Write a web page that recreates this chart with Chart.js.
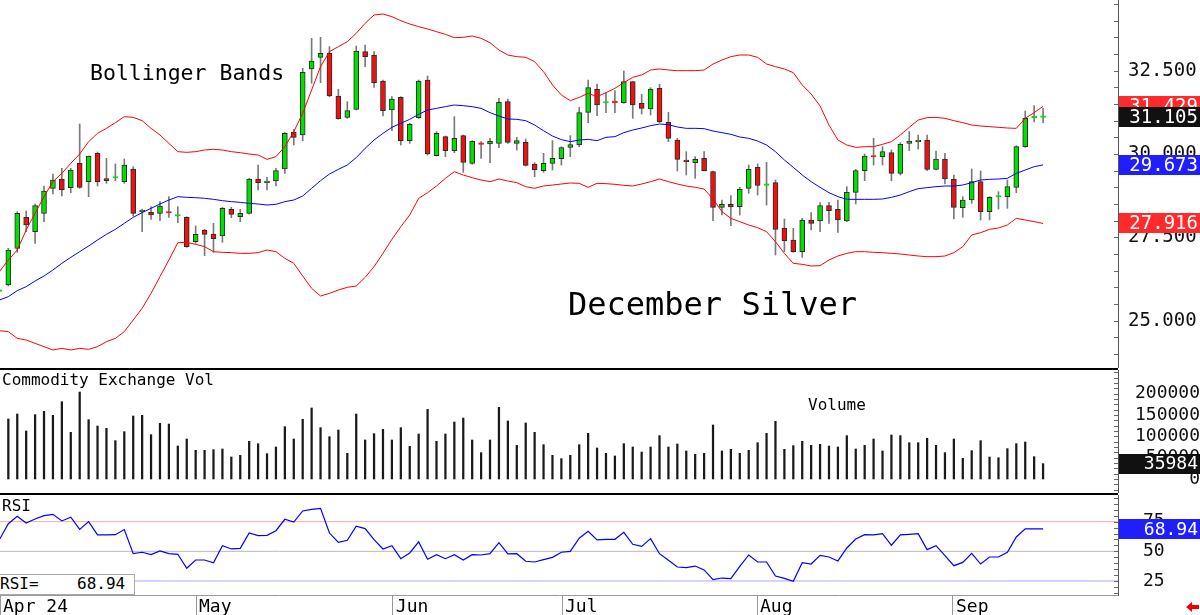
<!DOCTYPE html>
<html>
<head>
<meta charset="utf-8">
<script src="https://cdn.jsdelivr.net/npm/chart.js@4.4.1/dist/chart.umd.min.js"></script>
<style>
  body { margin: 0; background: #fff; }
  #wrap { position: relative; width: 1200px; height: 615px; overflow: hidden; font-family: 'DejaVu Sans Mono', monospace; color: #000; }
  canvas { position: absolute; left: 0; }
  .rule { position: absolute; left: 0; width: 1118px; height: 2px; background: #000; }
  .note { position: absolute; white-space: pre; line-height: 1; }
</style>
</head>
<body>
<div id="wrap">
  <canvas id="price" width="1200" height="368" style="top:0"></canvas>
  <div class="rule" style="top:368px"></div>
  <canvas id="vol" width="1200" height="123" style="top:370px"></canvas>
  <div class="rule" style="top:493px"></div>
  <canvas id="rsi" width="1200" height="120" style="top:495px"></canvas>
  <div class="note" style="left:90px;top:62px;font-size:21.5px">Bollinger Bands</div>
  <div class="note" style="left:568px;top:288px;font-size:32px">December Silver</div>
  <div class="note" style="left:2px;top:372px;font-size:16px">Commodity Exchange Vol</div>
  <div class="note" style="left:808px;top:397px;font-size:16px">Volume</div>
  <div class="note" style="left:2px;top:498px;font-size:16px">RSI</div>
  <div id="rsiBox" class="note" style="left:-1px;top:574px;width:136px;height:21px;border:1px solid #aaa;background:#fff;font-size:16px;padding-top:1px;box-sizing:border-box"></div>
</div>
<script>
// daily bars, first one (index -1) is cut by the left edge
const openPrices = [
  25.88, 26.07, 27.17, 28.10, 27.67, 28.22, 28.97, 29.25, 28.99, 29.72,
  29.17, 30.02, 29.26, 29.28, 29.17, 29.55, 28.27, 28.25, 28.22, 28.27,
  28.14, 28.10, 27.37, 27.72, 27.60, 27.54, 28.34, 28.12, 28.22, 29.25,
  29.14, 29.19, 29.55, 30.66, 30.57, 32.55, 32.90, 33.02, 31.74, 31.10,
  31.34, 33.07, 32.97, 32.19, 31.32, 31.70, 30.40, 31.09, 32.22, 29.95,
  30.52, 30.10, 30.55, 29.72, 30.31, 30.30, 30.32, 31.57, 30.32, 30.35,
  29.70, 29.50, 29.72, 29.86, 30.20, 30.27, 31.25, 31.94, 31.53, 31.56,
  31.54, 32.17, 31.52, 31.35, 31.97, 30.95, 30.42, 29.82, 29.74, 29.87,
  29.47, 28.40, 28.49, 28.42, 28.97, 29.60, 29.06, 29.14, 27.77, 27.42,
  27.07, 28.02, 27.99, 28.45, 28.34, 27.99, 28.85, 29.50, 29.93, 29.92,
  30.04, 29.42, 30.32, 30.37, 30.42, 29.54, 29.85, 29.24, 28.39, 28.62,
  29.17, 28.27, 28.71, 28.72, 29.00, 30.22, 31.09, 31.10
];
const highPrices = [
  25.93, 27.17, 28.27, 28.29, 28.50, 29.04, 29.40, 29.57, 29.57, 30.90,
  29.94, 30.06, 29.87, 29.70, 29.85, 29.62, 28.35, 28.42, 28.57, 28.72,
  28.42, 28.12, 27.84, 27.74, 27.92, 28.40, 28.40, 28.34, 29.27, 29.67,
  29.30, 29.57, 30.64, 30.74, 32.57, 33.47, 33.50, 33.22, 31.94, 31.57,
  33.24, 33.27, 33.07, 32.22, 31.72, 31.72, 30.92, 32.22, 32.34, 30.67,
  30.54, 31.12, 30.57, 30.40, 30.37, 30.47, 31.67, 31.65, 30.50, 30.45,
  29.74, 30.02, 30.40, 30.22, 30.55, 31.40, 32.22, 32.10, 31.84, 31.90,
  32.49, 32.17, 31.79, 31.99, 32.09, 31.25, 30.47, 30.07, 29.92, 30.07,
  29.49, 28.62, 28.75, 29.00, 29.67, 29.70, 29.75, 29.22, 28.05, 27.77,
  28.07, 28.24, 28.54, 28.55, 28.62, 29.02, 29.54, 30.00, 30.47, 30.22,
  30.12, 30.34, 30.67, 30.57, 30.57, 30.09, 30.02, 29.37, 28.72, 29.55,
  29.49, 28.72, 28.87, 29.22, 30.25, 31.29, 31.45, 31.37
];
const lowPrices = [
  25.85, 26.04, 27.05, 27.67, 27.32, 27.97, 28.80, 28.74, 28.84, 28.97,
  28.72, 29.04, 29.12, 29.20, 29.12, 28.14, 27.67, 28.04, 28.00, 28.10,
  27.94, 27.20, 27.32, 26.95, 27.05, 27.35, 28.09, 27.97, 28.20, 28.92,
  28.92, 29.04, 29.42, 30.27, 30.40, 32.12, 32.14, 31.72, 31.04, 31.07,
  31.32, 32.62, 32.00, 31.14, 30.70, 30.27, 30.32, 31.07, 29.97, 29.94,
  29.92, 30.04, 29.45, 29.69, 29.87, 29.74, 30.19, 30.32, 30.12, 29.64,
  29.32, 29.45, 29.52, 29.67, 29.92, 30.22, 30.94, 31.15, 31.24, 31.24,
  31.52, 31.07, 31.20, 31.17, 30.94, 30.37, 29.49, 29.37, 29.27, 29.49,
  28.00, 28.17, 27.85, 28.17, 28.82, 28.77, 28.47, 26.97, 27.07, 27.05,
  26.90, 27.72, 27.67, 27.92, 27.65, 27.97, 28.50, 29.20, 29.67, 29.67,
  29.20, 29.37, 30.10, 30.15, 29.50, 29.52, 29.10, 28.05, 28.10, 28.52,
  28.02, 28.02, 28.35, 28.37, 28.84, 30.20, 30.96, 30.94
];
const closePrices = [
  25.90, 27.12, 28.22, 27.87, 28.45, 28.89, 29.22, 28.92, 29.52, 29.00,
  29.94, 29.17, 29.20, 29.30, 29.67, 28.22, 28.32, 28.17, 28.44, 28.23,
  28.14, 27.22, 27.59, 27.59, 27.46, 28.37, 28.19, 28.22, 29.25, 29.14,
  29.19, 29.50, 30.62, 30.50, 32.45, 32.79, 33.02, 31.74, 31.06, 31.30,
  33.09, 32.92, 32.14, 31.30, 31.65, 30.40, 30.89, 32.19, 30.00, 30.62,
  30.10, 30.47, 29.75, 30.38, 30.29, 30.38, 31.55, 30.35, 30.40, 29.66,
  29.52, 29.72, 29.87, 30.19, 30.28, 31.24, 31.99, 31.47, 31.55, 31.54,
  32.17, 31.47, 31.37, 31.95, 30.97, 30.47, 29.84, 29.77, 29.84, 29.50,
  28.40, 28.49, 28.41, 28.94, 29.54, 29.06, 29.07, 27.74, 27.40, 27.07,
  28.02, 27.92, 28.45, 28.30, 28.02, 28.85, 29.50, 29.94, 29.91, 30.07,
  29.42, 30.29, 30.39, 30.42, 29.54, 29.85, 29.25, 28.40, 28.62, 29.17,
  28.27, 28.70, 28.72, 29.02, 30.22, 31.07, 31.10, 31.105
];
const upperBand = [
  26.47, 26.82, 27.12, 27.72, 28.22, 28.72, 29.17, 29.42, 29.72, 30.00,
  30.37, 30.62, 30.77, 30.94, 31.12, 31.10, 31.00, 30.77, 30.57, 30.32,
  30.07, 30.05, 30.07, 30.12, 30.14, 30.12, 30.07, 30.04, 30.00, 29.97,
  29.84, 29.92, 30.22, 30.67, 31.22, 31.92, 32.62, 33.07, 33.22, 33.37,
  33.62, 33.92, 34.17, 34.20, 34.12, 34.00, 33.90, 33.82, 33.75, 33.67,
  33.59, 33.49, 33.50, 33.54, 33.47, 33.34, 33.12, 32.97, 32.92, 32.90,
  32.77, 32.47, 32.07, 31.77, 31.60, 31.70, 31.82, 31.72, 31.84, 31.97,
  32.14, 32.30, 32.37, 32.52, 32.55, 32.52, 32.50, 32.50, 32.50, 32.52,
  32.70, 32.82, 32.92, 32.97, 32.97, 32.90, 32.70, 32.62, 32.55, 32.44,
  32.07, 31.80, 31.44, 30.87, 30.42, 30.27, 30.20, 30.22, 30.22, 30.29,
  30.37, 30.57, 30.80, 31.02, 31.09, 31.10, 31.07, 31.00, 30.94, 30.87,
  30.84, 30.82, 30.80, 30.78, 30.77, 31.07, 31.24, 31.429
];
const middleBand = [
  25.62, 25.72, 25.90, 26.02, 26.19, 26.34, 26.52, 26.72, 26.90, 27.07,
  27.24, 27.42, 27.59, 27.74, 27.92, 28.10, 28.24, 28.37, 28.50, 28.62,
  28.72, 28.70, 28.69, 28.67, 28.64, 28.60, 28.57, 28.55, 28.52, 28.50,
  28.47, 28.49, 28.57, 28.62, 28.74, 28.97, 29.20, 29.40, 29.54, 29.67,
  29.89, 30.17, 30.42, 30.62, 30.80, 30.92, 31.04, 31.19, 31.32, 31.37,
  31.42, 31.47, 31.45, 31.42, 31.37, 31.24, 31.14, 31.05, 31.04, 31.00,
  30.87, 30.70, 30.54, 30.43, 30.37, 30.42, 30.44, 30.40, 30.50, 30.52,
  30.64, 30.72, 30.78, 30.85, 30.90, 30.88, 30.81, 30.77, 30.77, 30.76,
  30.69, 30.64, 30.59, 30.51, 30.47, 30.39, 30.27, 30.07, 29.82, 29.60,
  29.37, 29.17, 29.00, 28.84, 28.72, 28.64, 28.64, 28.64, 28.64, 28.65,
  28.70, 28.77, 28.87, 28.96, 28.99, 29.02, 29.04, 29.04, 29.07, 29.14,
  29.22, 29.24, 29.25, 29.27, 29.42, 29.52, 29.62, 29.673
];
const lowerBand = [
  24.70, 24.67, 24.47, 24.42, 24.32, 24.22, 24.12, 24.17, 24.12, 24.17,
  24.14, 24.22, 24.37, 24.47, 24.67, 25.02, 25.37, 25.82, 26.32, 26.82,
  27.34, 27.35, 27.29, 27.22, 27.07, 27.05, 27.04, 27.02, 27.02, 27.04,
  27.12, 27.07, 26.87, 26.72, 26.34, 25.97, 25.74, 25.82, 25.92, 26.00,
  26.04, 26.30, 26.62, 27.02, 27.44, 27.82, 28.17, 28.67, 28.84, 29.04,
  29.27, 29.47, 29.37, 29.29, 29.22, 29.17, 29.25, 29.19, 29.14, 29.02,
  28.97, 29.04, 29.07, 29.10, 29.13, 29.12, 29.00, 29.12, 29.11, 29.09,
  29.06, 29.04, 29.10, 29.17, 29.25, 29.17, 29.10, 29.04, 29.00, 28.95,
  28.65, 28.27, 28.07, 27.97, 27.87, 27.79, 27.67, 27.37, 27.02, 26.72,
  26.69, 26.64, 26.65, 26.82, 26.94, 27.02, 27.07, 27.07, 27.05, 27.04,
  27.02, 27.00, 26.97, 26.94, 26.92, 26.92, 26.94, 27.04, 27.22, 27.57,
  27.64, 27.74, 27.78, 27.87, 28.07, 28.02, 27.97, 27.916
];
// volume starts with bar 0
const volume = [
  140800, 152500, 112600, 151000, 158700, 149400, 181400, 109500, 204000, 139200,
  124300, 118900, 89900, 111000, 147800, 149400, 104000, 130600, 129000, 77400,
  93800, 67300, 67300, 68800, 70400, 51600, 55500, 88400, 82900, 59400,
  75100, 122800, 93800, 140000, 166600, 120400, 99300, 115000, 60200, 152500,
  91500, 106400, 116500, 91500, 120400, 76600, 105600, 163400, 88400, 105600,
  133700, 143100, 91500, 61800, 91500, 168100, 136100, 79000, 131400, 109500,
  80500, 55500, 47700, 55500, 80500, 107100, 72700, 60200, 54000, 82900,
  75100, 63300, 75100, 101700, 75100, 82100, 65700, 57900, 60200, 126700,
  65700, 69600, 60200, 67300, 85200, 107100, 135300, 69600, 78200, 88400,
  79000, 81300, 77400, 75100, 101700, 70400, 79000, 93800, 65700, 103200,
  101700, 85200, 85200, 95400, 79000, 61800, 93800, 48500, 66500, 89900,
  51600, 50000, 71200, 82900, 86800, 52400, 35984
];
const rsiValues = [
  59.8, 73.3, 79.5, 73.9, 77.2, 80.1, 81.2, 75.6, 78.7, 68.5,
  75.0, 63.8, 63.8, 64.0, 68.3, 48.0, 49.2, 47.2, 50.3, 48.0,
  47.5, 35.7, 42.7, 42.7, 40.4, 54.8, 52.0, 52.5, 65.4, 63.2,
  63.5, 67.4, 77.0, 74.7, 84.0, 85.4, 86.2, 65.4, 57.6, 59.3,
  71.1, 69.1, 59.8, 52.0, 54.8, 43.8, 48.6, 57.9, 43.3, 47.2,
  43.8, 47.2, 42.7, 47.2, 46.9, 48.0, 57.3, 47.8, 48.0, 41.6,
  41.0, 43.0, 44.9, 49.2, 50.0, 61.0, 66.9, 59.6, 60.1, 60.1,
  66.0, 55.9, 54.2, 60.7, 48.0, 42.4, 36.8, 36.2, 37.6, 34.3,
  26.1, 27.5, 27.0, 37.4, 46.9, 41.0, 41.0, 29.2, 27.2, 24.7,
  40.4, 39.3, 46.6, 45.2, 41.9, 52.8, 60.4, 64.0, 63.8, 64.9,
  55.1, 63.8, 64.3, 64.9, 51.4, 54.8, 46.3, 37.9, 40.7, 48.3,
  39.3, 45.2, 45.2, 49.2, 62.1, 68.94, 68.94, 68.94
];
const rsiLevels = [75, 50, 25];
const rsiLevelColors = ['#ffa8a8', '#b8b8b8', '#a8a8ff'];
const priceTicks = [25, 27.5, 30, 32.5];
const volumeTicks = [0, 50000, 100000, 150000, 200000];
const rsiTicks = [25, 50, 75];
const monthLabels = ['Apr 24', 'May', 'Jun', 'Jul', 'Aug', 'Sep'];
const monthStart = [-0.934, 21.04, 43.1, 62.07, 83.93, 105.9];

[highPrices, lowPrices, closePrices, upperBand, middleBand, lowerBand, rsiValues].forEach(function (a) {
  if (a.length !== openPrices.length) throw new Error('bad length ' + a.length);
});
if (volume.length !== openPrices.length - 1) throw new Error('bad volume length');

const FONT = "'DejaVu Sans Mono', monospace";
const X_MIN = -0.934, X_MAX = 124.4;
const GREEN = '#00e000', RED = '#ee1111';
const last = a => a[a.length - 1];

const barIndex = openPrices.map((_, k) => k - 1);
const points = arr => arr.map((v, k) => ({ x: barIndex[k], y: v }));

// small ticks drawn on the inside of the right axis
const axisTicks = {
  id: 'axisTicks',
  afterDraw(chart, args, opts) {
    if (!opts.step) return;
    const s = chart.scales.y, x = chart.chartArea.right, ctx = chart.ctx;
    ctx.save();
    ctx.strokeStyle = '#666';
    ctx.lineWidth = 1;
    ctx.beginPath();
    for (let v = Math.ceil(s.min / opts.step) * opts.step; v <= s.max; v += opts.step) {
      const py = Math.round(s.getPixelForValue(v)) + 0.5;
      ctx.moveTo(x - 4, py);
      ctx.lineTo(x, py);
    }
    ctx.stroke();
    ctx.restore();
  }
};

// coloured boxes with the latest values on the right axis
const valueBoxes = {
  id: 'valueBoxes',
  afterDraw(chart, args, opts) {
    const ctx = chart.ctx, area = chart.chartArea, s = chart.scales.y;
    ctx.save();
    ctx.font = opts.font;
    ctx.textAlign = 'right';
    ctx.textBaseline = 'middle';
    (opts.boxes || []).forEach(b => {
      const py = s.getPixelForValue(b.value);
      ctx.fillStyle = b.color;
      ctx.fillRect(area.right + 1, Math.round(py - 10), chart.width - area.right - 1, 20);
      ctx.fillStyle = '#fff';
      ctx.fillText(b.text, chart.width - 2, py + 1);
    });
    if (opts.arrow) {
      ctx.fillStyle = '#ee0000';
      ctx.beginPath();
      ctx.moveTo(1186, 112);
      ctx.lineTo(1192, 107);
      ctx.lineTo(1192, 110);
      ctx.lineTo(1199, 110);
      ctx.lineTo(1199, 114);
      ctx.lineTo(1192, 114);
      ctx.lineTo(1192, 117);
      ctx.closePath();
      ctx.fill();
    }
    ctx.restore();
  }
};

function hiddenX() {
  return { type: 'linear', min: X_MIN, max: X_MAX, offset: false, display: false };
}

function rightAxis(tickValues, extra) {
  return Object.assign({
    position: 'right',
    grid: { display: false, drawTicks: false },
    border: { display: true, color: '#555', width: 1 },
    afterBuildTicks(s) { s.ticks = tickValues.map(v => ({ value: v })); },
    afterFit(s) { s.width = 82; s.paddingTop = 0; s.paddingBottom = 0; }
  }, extra);
}

const common = {
  responsive: false,
  devicePixelRatio: 1,
  animation: false,
  events: [],
  layout: { padding: 0 }
};

// price panel
new Chart(document.getElementById('price'), {
  type: 'bar',
  data: {
    datasets: [
      { type: 'line', data: points(upperBand), borderColor: '#ff0000', borderWidth: 1, pointRadius: 0, order: 0 },
      { type: 'line', data: points(middleBand), borderColor: '#0000ff', borderWidth: 1, pointRadius: 0, order: 0 },
      { type: 'line', data: points(lowerBand), borderColor: '#ff0000', borderWidth: 1, pointRadius: 0, order: 0 },
      {
        data: barIndex.map((x, k) => ({ x: x, y: [openPrices[k], closePrices[k]] })),
        backgroundColor: closePrices.map((c, k) => c >= openPrices[k] ? GREEN : RED),
        borderColor: closePrices.map((c, k) => Math.abs(c - openPrices[k]) < 0.045 ? (c >= openPrices[k] ? GREEN : RED) : '#2a2a2a'),
        borderWidth: 1, borderSkipped: false, barThickness: 5, minBarLength: 1.5, grouped: false, order: 1
      },
      {
        data: barIndex.map((x, k) => ({ x: x, y: [lowPrices[k], highPrices[k]] })),
        backgroundColor: '#7a7a7a', borderWidth: 0, barThickness: 1, grouped: false, order: 2
      }
    ]
  },
  options: Object.assign({}, common, {
    scales: {
      x: hiddenX(),
      y: rightAxis(priceTicks, {
        min: 23.58, max: 34.62,
        ticks: { padding: 10, color: '#111', font: { family: FONT, size: 19 }, callback: v => v.toFixed(3) }
      })
    },
    plugins: {
      legend: { display: false }, tooltip: { enabled: false },
      axisTicks: { step: 0.5 },
      valueBoxes: {
        font: '19px ' + FONT,
        boxes: [
          { value: last(upperBand), color: '#ff2a2a', text: last(upperBand).toFixed(3) },
          { value: last(closePrices), color: '#111', text: last(closePrices).toFixed(3) },
          { value: last(middleBand), color: '#1e1eff', text: last(middleBand).toFixed(3) },
          { value: last(lowerBand), color: '#ff2a2a', text: last(lowerBand).toFixed(3) }
        ]
      }
    }
  }),
  plugins: [axisTicks, valueBoxes]
});

// volume panel
new Chart(document.getElementById('vol'), {
  type: 'bar',
  data: {
    datasets: [{
      data: volume.map((v, k) => ({ x: k, y: v })),
      backgroundColor: '#1a1a1a', borderWidth: 0, barThickness: 1.6, grouped: false
    }]
  },
  options: Object.assign({}, common, {
    scales: {
      x: hiddenX(),
      y: rightAxis(volumeTicks, {
        min: -32900, max: 255800,
        ticks: { crossAlign: 'far', padding: 14, color: '#111', font: { family: FONT, size: 18 }, callback: v => String(v) }
      })
    },
    plugins: {
      legend: { display: false }, tooltip: { enabled: false },
      axisTicks: { step: 12500 },
      valueBoxes: { font: '18px ' + FONT, boxes: [{ value: last(volume), color: '#111', text: String(last(volume)) }] }
    }
  }),
  plugins: [axisTicks, valueBoxes]
});

// RSI panel
const levelSets = rsiLevels.map((lv, k) => ({
  data: [{ x: X_MIN, y: lv }, { x: X_MAX, y: lv }],
  borderColor: rsiLevelColors[k], borderWidth: 1, pointRadius: 0, order: 1
}));

new Chart(document.getElementById('rsi'), {
  type: 'line',
  data: {
    datasets: [
      { data: points(rsiValues), borderColor: '#0000ff', borderWidth: 1.2, pointRadius: 0, order: 0 }
    ].concat(levelSets)
  },
  options: Object.assign({}, common, {
    scales: {
      x: {
        type: 'linear', min: X_MIN, max: X_MAX, offset: false,
        grid: { display: true, drawOnChartArea: false, drawTicks: true, tickLength: 20, color: '#999' },
        border: { display: true, color: '#999' },
        afterBuildTicks(s) { s.ticks = monthStart.map(v => ({ value: v })); },
        ticks: {
          autoSkip: false, minRotation: 0, maxRotation: 0, align: 'start', labelOffset: 3, padding: -18,
          color: '#000', font: { family: FONT, size: 18 }, callback: (v, i) => monthLabels[i]
        },
        afterFit(s) { s.height = 20; s.paddingLeft = 0; s.paddingRight = 0; }
      },
      y: rightAxis(rsiTicks, {
        min: 13.2, max: 97.45,
        ticks: { padding: 25, color: '#111', font: { family: FONT, size: 18 }, callback: v => String(v) }
      })
    },
    plugins: {
      legend: { display: false }, tooltip: { enabled: false },
      axisTicks: { step: 5 },
      valueBoxes: { font: '18px ' + FONT, arrow: true, boxes: [{ value: last(rsiValues), color: '#1e1eff', text: last(rsiValues).toFixed(2) }] }
    }
  }),
  plugins: [axisTicks, valueBoxes]
});

document.getElementById('rsiBox').textContent = 'RSI=    ' + last(rsiValues).toFixed(2);
</script>
</body>
</html>
